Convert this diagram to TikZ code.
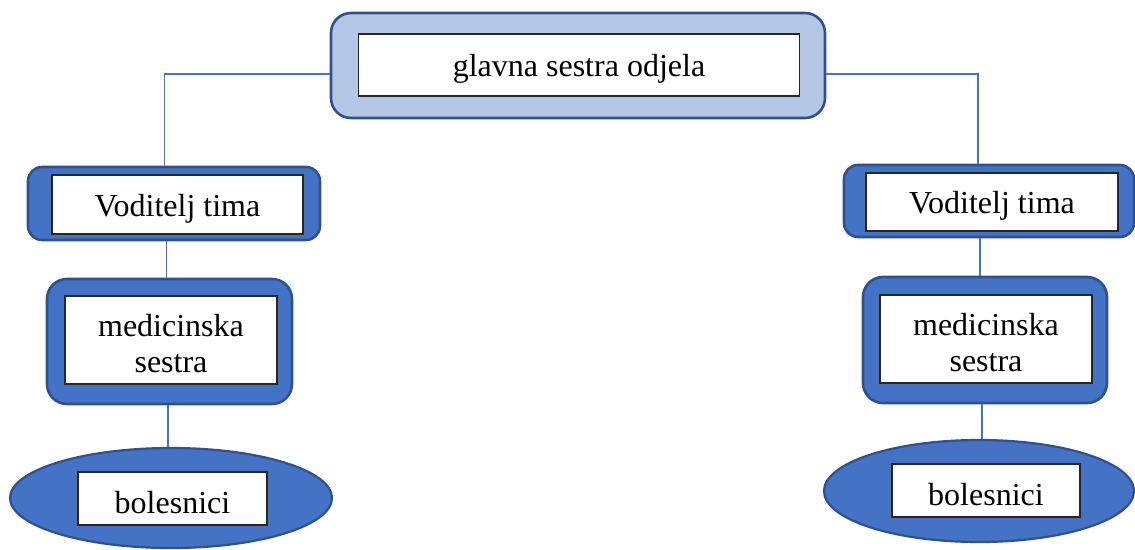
\documentclass[tikz,border=0pt]{standalone}
\usepackage{fontspec}
\setmainfont{Liberation Serif}
\usetikzlibrary{shapes.geometric}
\definecolor{dk}{HTML}{4472C4}
\definecolor{bd}{HTML}{2F528F}
\definecolor{lt}{HTML}{B4C7E7}
\newcommand\dnstrut{\rule{0pt}{30pt}}
\begin{document}
\begin{tikzpicture}[x=1pt,y=-1pt,
  outer/.style={draw=bd,line width=2.6pt,fill=dk,rounded corners=14pt,inner sep=0pt},
  inner/.style={draw=black!85,line width=1.1pt,fill=white,inner sep=0pt,align=center,
     font=\fontsize{32}{36}\selectfont},
  oval/.style={ellipse,draw=bd,line width=2.2pt,fill=dk,inner sep=0pt},
  conn/.style={draw=dk,line width=1.1pt}]
\useasboundingbox (0,0) rectangle (1135,549);
% top
\node[outer,fill=lt,rounded corners=20pt,minimum width=494pt,minimum height=105pt] (top) at (578,65.5) {};
\node[inner,minimum width=441pt,minimum height=62pt] (topt) at (579,65) {\dnstrut glavna sestra odjela};
% left column
\node[outer,minimum width=292pt,minimum height=73pt] (vod1) at (174,203.5) {};
\node[inner,minimum width=251pt,minimum height=59pt] (vod1t) at (177.5,204.5) {\dnstrut Voditelj tima};
\node[outer,rounded corners=20pt,minimum width=245pt,minimum height=125pt] (med1) at (169.5,341.5) {};
\node[inner,minimum width=212pt,minimum height=88pt] (med1t) at (171,340) {\dnstrut medicinska\\sestra};
\node[oval,minimum width=322pt,minimum height=100pt] (ell1) at (171,498) {};
\node[inner,minimum width=189pt,minimum height=53pt] (ell1t) at (172.5,498.5) {\dnstrut bolesnici};
% right column
\node[outer,minimum width=290pt,minimum height=72pt] (vod2) at (989,201) {};
\node[inner,minimum width=252pt,minimum height=58pt] (vod2t) at (992,202) {\dnstrut Voditelj tima};
\node[outer,rounded corners=20pt,minimum width=244pt,minimum height=126pt] (med2) at (985,340) {};
\node[inner,minimum width=212pt,minimum height=88pt] (med2t) at (986,339) {\dnstrut medicinska\\sestra};
\node[oval,minimum width=310pt,minimum height=102pt] (ell2) at (979,491) {};
\node[inner,minimum width=188pt,minimum height=53pt] (ell2t) at (986,490.5) {\dnstrut bolesnici};
% connectors
\draw[conn] ([yshift=-8.5pt]top.west) -| ([xshift=-9.5pt]vod1.north);
\draw[conn] ([yshift=-8.5pt]top.east) -| ([xshift=-11pt]vod2.north);
\draw[conn] ([xshift=-7.3pt]vod1.south) -- ([xshift=-7.3pt]vod1.south |- med1.north);
\draw[conn] ([xshift=-1.5pt]med1.south) -- ([xshift=-1.5pt]med1.south |- ell1.north);
\draw[conn] ([xshift=-9pt]vod2.south) -- ([xshift=-9pt]vod2.south |- med2.north);
\draw[conn] ([xshift=-3pt]med2.south) -- ([xshift=-3pt]med2.south |- ell2.north);
\end{tikzpicture}
\end{document}
